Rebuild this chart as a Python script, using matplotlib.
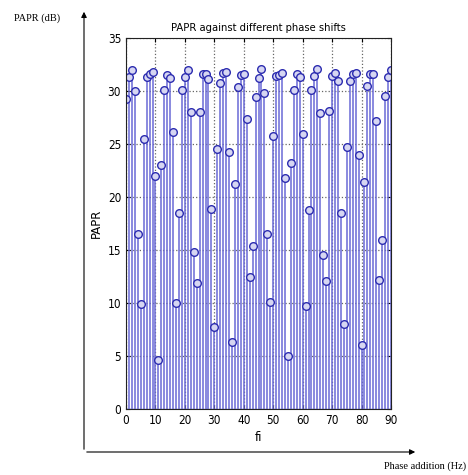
import matplotlib
matplotlib.use("Agg")
import matplotlib.pyplot as plt
import numpy as np

phase = list(range(0, 91))
papr = [29.2, 31.3, 32.0, 30.0, 16.5, 9.9, 25.5, 31.3, 31.6, 31.8,
        22.0, 4.6, 23.0, 30.1, 31.5, 31.2, 26.1, 10.0, 18.5, 30.1,
        31.3, 32.0, 28.0, 14.8, 11.9, 28.0, 31.6, 31.6, 31.1, 18.9,
        7.7, 24.5, 30.8, 31.7, 31.8, 24.2, 6.3, 21.2, 30.4, 31.5,
        31.6, 27.4, 12.5, 15.4, 29.4, 31.2, 32.1, 29.8, 16.5, 10.1,
        25.8, 31.4, 31.5, 31.7, 21.8, 5.0, 23.2, 30.1, 31.6, 31.3,
        25.9, 9.7, 18.8, 30.1, 31.4, 32.1, 27.9, 14.5, 12.1, 28.1,
        31.4, 31.7, 30.9, 18.5, 8.0, 24.7, 30.9, 31.6, 31.7, 24.0,
        6.0, 21.4, 30.5, 31.6, 31.6, 27.2, 12.2, 15.9, 29.5, 31.3,
        32.0]
xticks = list(range(0, 91, 10))
yticks = list(range(0, 36, 5))

narrow = ['Liberation Sans Narrow', 'DejaVu Sans']
serif = ['Liberation Serif', 'DejaVu Serif']

fig = plt.figure(figsize=(4.68, 4.75), dpi=100)
ax = fig.add_axes([126/468, 66/475, 265/468, 371/475])

stem_col = '#6a6ad6'
ml, sl, bl = ax.stem(phase, papr, linefmt='-', markerfmt='o', basefmt='-')
plt.setp(sl, color=stem_col, linewidth=1.1)
plt.setp(ml, markersize=5.5, markeredgecolor='#2c2cb0', markerfacecolor='#d6d6f2',
         markeredgewidth=1.0)
plt.setp(bl, color=stem_col, linewidth=1.0)

ax.set_xlim(0, 90)
ax.set_ylim(0, 35)
ax.set_xticks(xticks)
ax.set_yticks(yticks)
ax.grid(True, linestyle=':', color='#666666', linewidth=0.9)
ax.set_axisbelow(True)
ax.tick_params(direction='in', length=3, labelsize=8.5, top=True, right=True,
               labeltop=False, labelright=False)
for lab in ax.get_xticklabels() + ax.get_yticklabels():
    lab.set_family(narrow)
    lab.set_stretch('condensed')
for s in ax.spines.values():
    s.set_linewidth(0.8)
    s.set_color('#222222')

ax.set_title('PAPR against different phase shifts', fontsize=8, family=narrow,
             stretch='condensed', pad=5)
ax.set_xlabel('fi', fontsize=8.5, family=narrow, labelpad=3)
ax.set_ylabel('PAPR', fontsize=8.5, family=narrow, labelpad=3)

# outer arrows
fig.patches.append(matplotlib.patches.FancyArrowPatch(
    (84/468, 1 - 452/475), (84/468, 1 - 9/475), transform=fig.transFigure,
    arrowstyle='-|>', mutation_scale=8, color='black', linewidth=0.8))
fig.patches.append(matplotlib.patches.FancyArrowPatch(
    (84/468, 1 - 452/475), (418/468, 1 - 452/475), transform=fig.transFigure,
    arrowstyle='-|>', mutation_scale=8, color='black', linewidth=0.8))
fig.text(14/468, 1 - 18/475, 'PAPR (dB)', fontsize=7.5, family=serif, va='center', ha='left')
fig.text(466/468, 1 - 466/475, 'Phase addition (Hz)', fontsize=7.5, family=serif,
         va='center', ha='right')

fig.savefig('out.png', dpi=100)
